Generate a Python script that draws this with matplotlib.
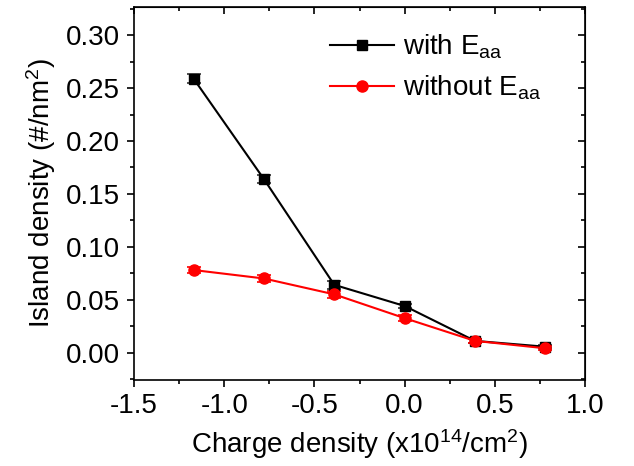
import matplotlib
matplotlib.use("Agg")
import matplotlib.pyplot as plt
from matplotlib.lines import Line2D
from matplotlib.ticker import MultipleLocator

plt.rcParams["font.family"] = ["Liberation Sans", "DejaVu Sans"]
plt.rcParams["mathtext.fontset"] = "custom"
plt.rcParams["mathtext.rm"] = "Liberation Sans"
plt.rcParams["mathtext.it"] = "Liberation Sans"

charge = [-1.17, -0.78, -0.39, 0.0, 0.39, 0.78]
with_eaa = [0.259, 0.164, 0.064, 0.044, 0.011, 0.0055]
with_err = [0.004, 0.004, 0.004, 0.002, 0.002, 0.0015]
without_eaa = [0.078, 0.070, 0.055, 0.0325, 0.011, 0.004]
without_err = [0.003, 0.003, 0.003, 0.003, 0.002, 0.002]

fig = plt.figure(figsize=(6.34, 4.66), dpi=100)
ax = fig.add_axes([0.2114, 0.1845, 0.7113, 0.8005])

ax.errorbar(charge, with_eaa, yerr=with_err, color="black", marker="s", ms=7,
            lw=1.5, capsize=5, elinewidth=1.2, capthick=1.2, ecolor="#333333")
ax.errorbar(charge, without_eaa, yerr=without_err, color="red", marker="o", ms=8,
            lw=1.5, capsize=5, elinewidth=1.2, capthick=1.2)

ax.set_xlim(-1.5, 1.0)
ax.set_ylim(-0.026, 0.3267)
ax.xaxis.set_major_locator(MultipleLocator(0.5))
ax.xaxis.set_minor_locator(MultipleLocator(0.25))
ax.yaxis.set_major_locator(MultipleLocator(0.05))
ax.yaxis.set_minor_locator(MultipleLocator(0.025))
ax.xaxis.set_major_formatter(plt.FuncFormatter(lambda v, p: f"{v:.1f}"))
ax.yaxis.set_major_formatter(plt.FuncFormatter(lambda v, p: f"{v:.2f}"))

ax.tick_params(which="both", direction="out", top=False, right=False, labelsize=20, width=1.2)
ax.tick_params(which="major", length=5)
ax.tick_params(which="minor", length=3)
ax.tick_params(axis="x", pad=4)
ax.tick_params(axis="y", pad=5)
for side in ["top", "right", "left", "bottom"]:
    ax.spines[side].set_linewidth(1.2)

ax2 = ax.secondary_xaxis("top")
ax2.xaxis.set_major_locator(MultipleLocator(0.5))
ax2.xaxis.set_minor_locator(MultipleLocator(0.25))
ax2.tick_params(which="both", direction="in", labeltop=False, width=1.2)
ax2.tick_params(which="major", length=5)
ax2.tick_params(which="minor", length=3)
ay2 = ax.secondary_yaxis("right")
ay2.yaxis.set_major_locator(MultipleLocator(0.05))
ay2.yaxis.set_minor_locator(MultipleLocator(0.025))
ay2.tick_params(which="both", direction="in", labelright=False, width=1.2)
ay2.tick_params(which="major", length=5)
ay2.tick_params(which="minor", length=3)

ax.set_xlabel("Charge density (x10$^{14}$/cm$^{2}$)", fontsize=20, labelpad=6)
ax.set_ylabel("Island density (#/nm$^{2}$)", fontsize=20, labelpad=6)

handles = [
    Line2D([], [], color="black", marker="s", ms=7, lw=1.5),
    Line2D([], [], color="red", marker="o", ms=8, lw=1.5),
]
labels = ["with E$_{\\mathrm{aa}}$", "without E$_{\\mathrm{aa}}$"]
ax.legend(handles, labels, loc="upper left", bbox_to_anchor=(0.434, 0.932),
          frameon=False, fontsize=20, borderpad=0, borderaxespad=0,
          handlelength=2.3, handletextpad=0.35, labelspacing=0.45)

fig.savefig("out.png", dpi=100)
